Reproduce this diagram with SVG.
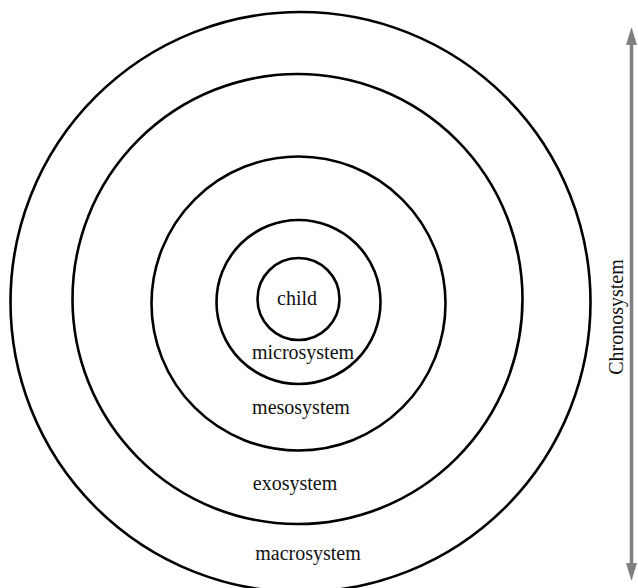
<svg xmlns="http://www.w3.org/2000/svg" width="638" height="588" viewBox="0 0 638 588">
  <style>
    .ring { fill: none; stroke: #000; stroke-width: 2.6; }
    .lbl { font-family: "Liberation Serif", "Times New Roman", serif; font-size: 20px; fill: #111; text-anchor: middle; }
    .shaft { stroke: #808080; stroke-width: 3.5; }
    .head { fill: #808080; }
  </style>
  <rect width="638" height="588" fill="#fff"/>

  <!-- nested system rings, outermost first -->
  <g id="macrosystem">
    <circle class="ring" cx="300.5" cy="302" r="290"/>
    <text class="lbl" x="308" y="560">macrosystem</text>
  </g>
  <g id="exosystem">
    <circle class="ring" cx="297.5" cy="299" r="225"/>
    <text class="lbl" x="295" y="490">exosystem</text>
  </g>
  <g id="mesosystem">
    <circle class="ring" cx="298.5" cy="303.5" r="147"/>
    <text class="lbl" x="301" y="414">mesosystem</text>
  </g>
  <g id="microsystem">
    <circle class="ring" cx="298.5" cy="302" r="82"/>
    <text class="lbl" x="303" y="359">microsystem</text>
  </g>
  <g id="child">
    <circle class="ring" cx="298.5" cy="299" r="41"/>
    <text class="lbl" x="297" y="305">child</text>
  </g>

  <!-- time axis on the right -->
  <g id="connectors">
    <line class="shaft" x1="631.5" y1="42" x2="631.5" y2="566"/>
    <polygon class="head" points="631.5,27 626,45 637,45"/>
    <polygon class="head" points="631.5,581 626,563 637,563"/>
  </g>
  <g id="chronosystem">
    <text class="lbl" transform="translate(623,317) rotate(-90)">Chronosystem</text>
  </g>
</svg>
